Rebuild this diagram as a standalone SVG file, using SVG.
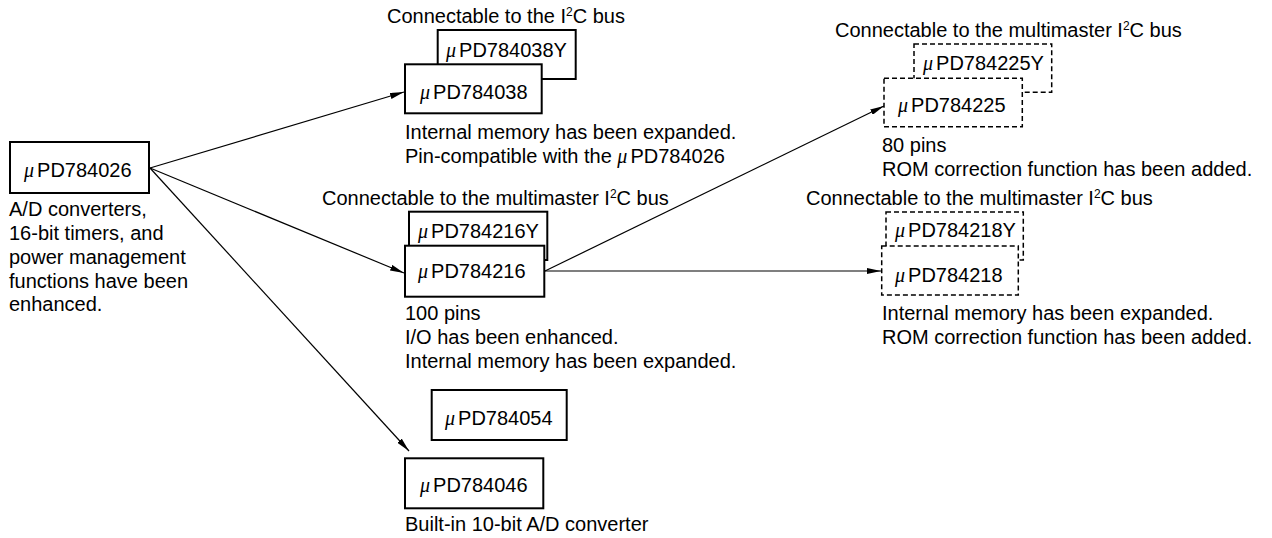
<svg xmlns="http://www.w3.org/2000/svg" width="1272" height="538" viewBox="0 0 1272 538">
<style>
text{font-family:"Liberation Sans",Arial,sans-serif;font-size:20px;fill:#000}
.mu{font-family:"Liberation Serif","DejaVu Serif",serif;font-style:italic}
.box{fill:#fff;stroke:#000;stroke-width:2}
.dbox{fill:#fff;stroke:#000;stroke-width:1.5;stroke-dasharray:5 3}
.sup{font-size:12px}
.conn line{stroke:#000;stroke-width:1.2;fill:none}
</style>
<defs>
<marker id="arr" viewBox="0 0 14 6" refX="14" refY="3" markerWidth="14" markerHeight="6" markerUnits="userSpaceOnUse" orient="auto">
<path d="M0,0 L14,3 L0,6 z" fill="#000"/>
</marker>
</defs>

<g id="connectors" class="conn">
<line x1="150" y1="168" x2="404" y2="92" marker-end="url(#arr)"/>
<line x1="150" y1="168" x2="404" y2="273" marker-end="url(#arr)"/>
<line x1="150" y1="168" x2="409" y2="451" marker-end="url(#arr)"/>
<line x1="545" y1="271" x2="884" y2="106" marker-end="url(#arr)"/>
<line x1="545" y1="271" x2="881" y2="271" marker-end="url(#arr)"/>
</g>

<g id="n784026">
<rect class="box" x="10" y="142" width="139" height="51"/>
<text x="24" y="177"><tspan class="mu">μ</tspan><tspan dx="3">PD784026</tspan></text>
<text x="9" y="216">A/D converters,</text>
<text x="9" y="240">16-bit timers, and</text>
<text x="9" y="263.5">power management</text>
<text x="9" y="287.5">functions have been</text>
<text x="9" y="311">enhanced.</text>
</g>

<g id="n784038">
<text x="387" y="23">Connectable to the I<tspan class="sup" dy="-7">2</tspan><tspan dy="7">C bus</tspan></text>
<rect class="box" x="437.7" y="30" width="138" height="49"/>
<text x="446" y="57"><tspan class="mu">μ</tspan><tspan dx="3">PD784038Y</tspan></text>
<rect class="box" x="405" y="64.3" width="136.7" height="49"/>
<text x="420" y="99"><tspan class="mu">μ</tspan><tspan dx="3">PD784038</tspan></text>
<text x="405" y="139">Internal memory has been expanded.</text>
<text x="405" y="163">Pin-compatible with the <tspan class="mu">μ</tspan><tspan dx="3">PD784026</tspan></text>
</g>

<g id="n784216">
<text x="322" y="205">Connectable to the multimaster I<tspan class="sup" dy="-7">2</tspan><tspan dy="7">C bus</tspan></text>
<rect class="box" x="409" y="211.7" width="138.3" height="48.3"/>
<text x="418" y="238"><tspan class="mu">μ</tspan><tspan dx="3">PD784216Y</tspan></text>
<rect class="box" x="405" y="245.7" width="139.3" height="51"/>
<text x="418" y="278"><tspan class="mu">μ</tspan><tspan dx="3">PD784216</tspan></text>
<text x="405" y="320">100 pins</text>
<text x="405" y="344">I/O has been enhanced.</text>
<text x="405" y="368">Internal memory has been expanded.</text>
</g>

<g id="n784054">
<rect class="box" x="431.7" y="390" width="135" height="50"/>
<text x="445" y="425"><tspan class="mu">μ</tspan><tspan dx="3">PD784054</tspan></text>
</g>

<g id="n784046">
<rect class="box" x="405" y="458.3" width="138.3" height="50"/>
<text x="420" y="492"><tspan class="mu">μ</tspan><tspan dx="3">PD784046</tspan></text>
<text x="405" y="531">Built-in 10-bit A/D converter</text>
</g>

<g id="n784225">
<text x="835" y="37">Connectable to the multimaster I<tspan class="sup" dy="-7">2</tspan><tspan dy="7">C bus</tspan></text>
<rect class="dbox" x="914" y="44" width="137.7" height="48.3"/>
<text x="923" y="70"><tspan class="mu">μ</tspan><tspan dx="3">PD784225Y</tspan></text>
<rect class="dbox" x="884" y="78.3" width="138.3" height="48.4"/>
<text x="898" y="112"><tspan class="mu">μ</tspan><tspan dx="3">PD784225</tspan></text>
<text x="882" y="152">80 pins</text>
<text x="882" y="176">ROM correction function has been added.</text>
</g>

<g id="n784218">
<text x="806" y="205">Connectable to the multimaster I<tspan class="sup" dy="-7">2</tspan><tspan dy="7">C bus</tspan></text>
<rect class="dbox" x="886" y="212" width="137.3" height="48"/>
<text x="895" y="237"><tspan class="mu">μ</tspan><tspan dx="3">PD784218Y</tspan></text>
<rect class="dbox" x="881.7" y="246" width="136.6" height="49"/>
<text x="895" y="282"><tspan class="mu">μ</tspan><tspan dx="3">PD784218</tspan></text>
<text x="882" y="320">Internal memory has been expanded.</text>
<text x="882" y="344">ROM correction function has been added.</text>
</g>
</svg>
